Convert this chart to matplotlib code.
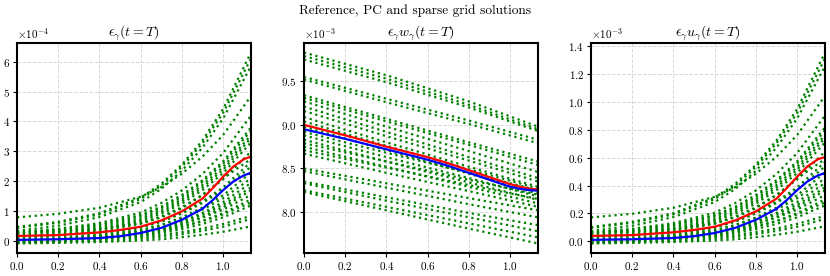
import numpy as np
import matplotlib
matplotlib.use('Agg')
import matplotlib.pyplot as plt

plt.rcParams['font.family'] = 'serif'
plt.rcParams['font.serif'] = ['cmr10', 'DejaVu Serif']
plt.rcParams['mathtext.fontset'] = 'cm'
plt.rcParams['axes.formatter.use_mathtext'] = True
plt.rcParams['axes.unicode_minus'] = False

# sample points (t along the x axis)
x_ref = [0, 0.2, 0.4, 0.5, 0.6, 0.7, 0.8, 0.9, 0.95, 1.0, 1.05, 1.1, 1.135]
x_pc = [0, 0.2, 0.4, 0.6, 0.7, 0.8, 0.9, 1.0, 1.135]
x_w = [0, 0.4, 0.8, 1.135]

# panel 1: eps (units of 1e-4)
red_eps = [0.18, 0.21, 0.30, 0.38, 0.49, 0.70, 1.0, 1.43, 1.78, 2.16, 2.5, 2.74, 2.83]
blue_eps = [0.05, 0.07, 0.11, 0.17, 0.28, 0.45, 0.72, 1.09, 1.38, 1.71, 2.0, 2.2, 2.29]
green_eps = [
    [0.8, 0.92, 1.12, 1.49, 1.81, 2.26, 2.83, 3.55, 4.85],
    [0.48, 0.65, 0.94, 1.46, 1.92, 2.56, 3.37, 4.42, 6.3],
    [0.45, 0.62, 0.9, 1.41, 1.86, 2.49, 3.28, 4.29, 6.1],
    [0.35, 0.52, 0.81, 1.31, 1.75, 2.36, 3.13, 4.1, 5.85],
    [0.3, 0.42, 0.61, 0.96, 1.28, 1.7, 2.25, 2.95, 4.2],
    [0.28, 0.39, 0.56, 0.88, 1.16, 1.55, 2.04, 2.67, 3.8],
    [0.25, 0.35, 0.53, 0.84, 1.11, 1.49, 1.98, 2.6, 3.7],
    [0.2, 0.3, 0.47, 0.77, 1.04, 1.41, 1.88, 2.48, 3.55],
    [0.15, 0.25, 0.41, 0.71, 0.98, 1.34, 1.8, 2.39, 3.45],
    [0.12, 0.22, 0.37, 0.66, 0.92, 1.26, 1.71, 2.28, 3.3],
    [0.1, 0.19, 0.33, 0.59, 0.83, 1.14, 1.55, 2.07, 3.0],
    [0.3, 0.33, 0.42, 0.6, 0.8, 1.1, 1.55, 2.1, 2.75],
    [0.0, 0.08, 0.21, 0.45, 0.66, 0.95, 1.33, 1.8, 2.65],
    [0.05, 0.12, 0.25, 0.47, 0.66, 0.93, 1.28, 1.72, 2.5],
    [-0.03, 0.04, 0.15, 0.36, 0.55, 0.8, 1.13, 1.54, 2.3],
    [0.02, 0.08, 0.19, 0.37, 0.54, 0.77, 1.06, 1.44, 2.1],
    [-0.05, 0.01, 0.11, 0.29, 0.45, 0.67, 0.95, 1.31, 1.95],
    [0.0, 0.05, 0.14, 0.31, 0.45, 0.65, 0.9, 1.22, 1.8],
    [-0.06, -0.01, 0.08, 0.24, 0.38, 0.57, 0.82, 1.14, 1.7],
    [0.03, 0.08, 0.15, 0.29, 0.41, 0.58, 0.79, 1.06, 1.55],
    [-0.04, 0.0, 0.08, 0.2, 0.32, 0.48, 0.68, 0.94, 1.4],
    [0.05, 0.09, 0.15, 0.26, 0.36, 0.5, 0.68, 0.9, 1.3],
    [-0.02, 0.02, 0.08, 0.18, 0.28, 0.41, 0.58, 0.8, 1.2],
    [0.0, 0.03, 0.07, 0.14, 0.21, 0.31, 0.43, 0.58, 0.85],
    [-0.05, -0.03, 0.01, 0.09, 0.15, 0.24, 0.35, 0.49, 0.75],
    [-0.07, -0.05, -0.02, 0.03, 0.07, 0.14, 0.22, 0.32, 0.5],
]

# panel 2: eps*w (units of 1e-3)
red_w = [9.0, 8.88, 8.75, 8.69, 8.63, 8.56, 8.48, 8.40, 8.36, 8.32, 8.29, 8.265, 8.26]
blue_w = [8.95, 8.84, 8.72, 8.66, 8.60, 8.53, 8.45, 8.37, 8.33, 8.29, 8.265, 8.25, 8.245]
green_w = [
    [9.83, 9.57, 9.27, 8.98],
    [9.79, 9.53, 9.23, 8.95],
    [9.75, 9.49, 9.20, 8.93],
    [9.55, 9.30, 9.05, 8.83],
    [9.52, 9.26, 9.01, 8.79],
    [9.34, 9.07, 8.80, 8.58],
    [9.31, 9.04, 8.77, 8.54],
    [9.27, 8.98, 8.70, 8.46],
    [9.21, 8.92, 8.63, 8.39],
    [9.16, 8.87, 8.59, 8.35],
    [9.09, 8.80, 8.52, 8.29],
    [9.04, 8.76, 8.49, 8.27],
    [8.98, 8.71, 8.44, 8.21],
    [8.92, 8.68, 8.45, 8.25],
    [8.88, 8.63, 8.39, 8.18],
    [8.83, 8.58, 8.34, 8.14],
    [8.79, 8.58, 8.37, 8.20],
    [8.75, 8.52, 8.29, 8.10],
    [8.71, 8.51, 8.31, 8.15],
    [8.67, 8.45, 8.24, 8.06],
    [8.50, 8.33, 8.16, 8.02],
    [8.47, 8.28, 8.09, 7.94],
    [8.35, 8.17, 7.99, 7.85],
    [8.33, 8.13, 7.94, 7.78],
    [8.25, 8.06, 7.87, 7.71],
    [8.23, 8.02, 7.81, 7.64],
]

# panel 3: eps*u (units of 1e-3)
red_u = [0.039, 0.045, 0.065, 0.082, 0.105, 0.151, 0.215, 0.307, 0.383, 0.464, 0.538, 0.589, 0.605]
blue_u = [0.011, 0.015, 0.024, 0.037, 0.06, 0.097, 0.155, 0.234, 0.297, 0.368, 0.43, 0.473, 0.49]
green_u = [
    [0.172, 0.198, 0.241, 0.32, 0.389, 0.486, 0.608, 0.763, 1.043],
    [0.103, 0.14, 0.202, 0.314, 0.413, 0.55, 0.725, 0.95, 1.355],
    [0.097, 0.133, 0.194, 0.303, 0.4, 0.535, 0.705, 0.922, 1.312],
    [0.075, 0.112, 0.174, 0.282, 0.376, 0.507, 0.673, 0.882, 1.258],
    [0.065, 0.09, 0.131, 0.206, 0.275, 0.366, 0.484, 0.634, 0.903],
    [0.06, 0.084, 0.12, 0.189, 0.249, 0.333, 0.439, 0.574, 0.817],
    [0.054, 0.075, 0.114, 0.181, 0.239, 0.32, 0.426, 0.559, 0.796],
    [0.043, 0.065, 0.101, 0.166, 0.224, 0.303, 0.404, 0.533, 0.763],
    [0.032, 0.054, 0.088, 0.153, 0.211, 0.288, 0.387, 0.514, 0.742],
    [0.026, 0.047, 0.08, 0.142, 0.198, 0.271, 0.368, 0.49, 0.71],
    [0.022, 0.041, 0.071, 0.127, 0.178, 0.245, 0.333, 0.445, 0.645],
    [0.065, 0.071, 0.09, 0.129, 0.172, 0.237, 0.333, 0.452, 0.591],
    [0.0, 0.017, 0.045, 0.097, 0.142, 0.204, 0.286, 0.387, 0.57],
    [0.011, 0.026, 0.054, 0.101, 0.142, 0.2, 0.275, 0.37, 0.538],
    [-0.006, 0.009, 0.032, 0.077, 0.118, 0.172, 0.243, 0.331, 0.495],
    [0.004, 0.017, 0.041, 0.08, 0.116, 0.166, 0.228, 0.31, 0.452],
    [-0.011, 0.002, 0.024, 0.062, 0.097, 0.144, 0.204, 0.282, 0.419],
    [0.0, 0.011, 0.03, 0.067, 0.097, 0.14, 0.194, 0.262, 0.387],
    [-0.013, -0.002, 0.017, 0.052, 0.082, 0.123, 0.176, 0.245, 0.366],
    [0.006, 0.017, 0.032, 0.062, 0.088, 0.125, 0.17, 0.228, 0.333],
    [-0.009, 0.0, 0.017, 0.043, 0.069, 0.103, 0.146, 0.202, 0.301],
    [0.011, 0.019, 0.032, 0.056, 0.077, 0.108, 0.146, 0.194, 0.28],
    [-0.004, 0.004, 0.017, 0.039, 0.06, 0.088, 0.125, 0.172, 0.258],
    [0.0, 0.006, 0.015, 0.03, 0.045, 0.067, 0.092, 0.125, 0.183],
    [-0.011, -0.006, 0.002, 0.019, 0.032, 0.052, 0.075, 0.105, 0.161],
    [-0.015, -0.011, -0.004, 0.006, 0.015, 0.03, 0.047, 0.069, 0.108],
]

titles = [r'$\epsilon_\gamma(t=T)$', r'$\epsilon_\gamma w_\gamma(t=T)$',
          r'$\epsilon_\gamma u_\gamma(t=T)$']

panels = [
    (x_pc, green_eps, red_eps, blue_eps, 1e-4),
    (x_w, green_w, red_w, blue_w, 1e-3),
    (x_pc, green_u, red_u, blue_u, 1e-3),
]

fig = plt.figure(figsize=(8.3, 2.76), dpi=100)
lefts = [17 / 830, 304 / 830, 591 / 830]
axes = [fig.add_axes([l, 23 / 276, 234 / 830, 210 / 276]) for l in lefts]

for ax, (xg, greens, red, blue, unit), title in zip(axes, panels, titles):
    for g in greens:
        ax.plot(xg, np.array(g) * unit, ':', color='green', linewidth=1.6)
    ax.plot(x_ref, np.array(red) * unit, color='red', linewidth=1.6)
    ax.plot(x_ref, np.array(blue) * unit, color='blue', linewidth=1.6)
    ax.set_xlim(0, 1.135)
    ax.set_xticks([0, 0.2, 0.4, 0.6, 0.8, 1.0])
    ax.ticklabel_format(axis='y', style='sci', scilimits=(0, 0))
    ax.grid(True, linestyle='--', color='#d8d8d8', linewidth=0.7)
    ax.set_axisbelow(True)
    ax.set_title(title, fontsize=10, pad=2)
    ax.tick_params(labelsize=8, length=3, width=0.8, pad=2)
    ax.yaxis.get_offset_text().set_fontsize(8)
    for s in ax.spines.values():
        s.set_linewidth(1.5)
        s.set_color('black')

fig.suptitle('Reference, PC and sparse grid solutions', fontsize=9.6, y=0.985)

fig.savefig('out.png', dpi=100)
